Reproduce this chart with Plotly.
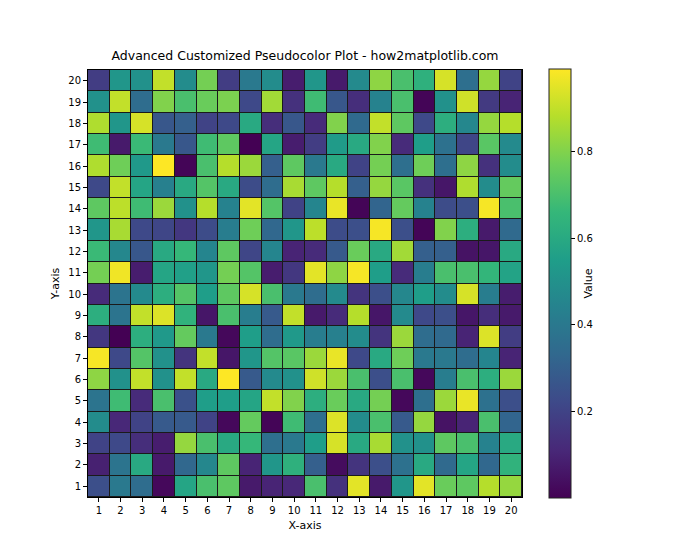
import plotly.graph_objects as go

x_labels = list(range(1, 21))
y_labels = list(range(1, 21))

# rows listed from y=1 (bottom) to y=20 (top), columns x=1..20
row01 = [0.24, 0.40, 0.35, 0.02, 0.58, 0.70, 0.74, 0.07, 0.10, 0.11, 0.70, 0.14, 0.95, 0.07, 0.52, 0.95, 0.76, 0.74, 0.88, 0.83]
row02 = [0.09, 0.38, 0.60, 0.07, 0.33, 0.46, 0.74, 0.10, 0.52, 0.63, 0.30, 0.03, 0.15, 0.24, 0.37, 0.60, 0.34, 0.58, 0.33, 0.64]
row03 = [0.20, 0.22, 0.13, 0.08, 0.83, 0.70, 0.60, 0.66, 0.36, 0.40, 0.55, 0.93, 0.60, 0.86, 0.50, 0.50, 0.74, 0.70, 0.44, 0.60]
row04 = [0.48, 0.11, 0.20, 0.28, 0.28, 0.20, 0.02, 0.75, 0.01, 0.68, 0.36, 0.94, 0.48, 0.70, 0.28, 0.83, 0.05, 0.10, 0.70, 0.32]
row05 = [0.38, 0.68, 0.12, 0.70, 0.25, 0.55, 0.55, 0.58, 0.90, 0.80, 0.62, 0.76, 0.60, 0.78, 0.02, 0.36, 0.84, 0.96, 0.37, 0.24]
row06 = [0.82, 0.50, 0.90, 0.50, 0.90, 0.60, 0.99, 0.28, 0.47, 0.50, 0.92, 0.84, 0.70, 0.24, 0.70, 0.02, 0.42, 0.70, 0.62, 0.84]
row07 = [0.98, 0.22, 0.72, 0.50, 0.15, 0.90, 0.06, 0.52, 0.72, 0.73, 0.84, 0.96, 0.22, 0.60, 0.77, 0.40, 0.40, 0.35, 0.45, 0.10]
row08 = [0.16, 0.00, 0.62, 0.53, 0.75, 0.40, 0.02, 0.55, 0.35, 0.53, 0.42, 0.43, 0.48, 0.15, 0.84, 0.35, 0.34, 0.10, 0.94, 0.18]
row09 = [0.62, 0.38, 0.90, 0.94, 0.64, 0.06, 0.70, 0.42, 0.28, 0.90, 0.07, 0.12, 0.88, 0.06, 0.47, 0.22, 0.24, 0.06, 0.13, 0.07]
row10 = [0.12, 0.38, 0.47, 0.62, 0.72, 0.55, 0.74, 0.93, 0.70, 0.40, 0.35, 0.47, 0.15, 0.24, 0.46, 0.55, 0.48, 0.93, 0.42, 0.08]
row11 = [0.78, 0.97, 0.08, 0.58, 0.56, 0.52, 0.78, 0.72, 0.08, 0.16, 0.95, 0.82, 0.98, 0.55, 0.12, 0.42, 0.70, 0.70, 0.65, 0.57]
row12 = [0.67, 0.46, 0.27, 0.60, 0.66, 0.45, 0.74, 0.21, 0.45, 0.10, 0.12, 0.28, 0.76, 0.60, 0.85, 0.30, 0.30, 0.05, 0.06, 0.60]
row13 = [0.52, 0.86, 0.22, 0.21, 0.16, 0.23, 0.42, 0.77, 0.33, 0.52, 0.89, 0.23, 0.24, 0.98, 0.24, 0.01, 0.80, 0.62, 0.07, 0.34]
row14 = [0.74, 0.89, 0.68, 0.84, 0.50, 0.88, 0.44, 0.95, 0.72, 0.20, 0.45, 0.96, 0.01, 0.32, 0.75, 0.44, 0.23, 0.24, 0.98, 0.70]
row15 = [0.22, 0.90, 0.58, 0.43, 0.60, 0.72, 0.60, 0.23, 0.35, 0.86, 0.74, 0.88, 0.30, 0.83, 0.73, 0.14, 0.06, 0.87, 0.48, 0.75]
row16 = [0.87, 0.77, 0.53, 0.99, 0.01, 0.70, 0.88, 0.84, 0.30, 0.74, 0.40, 0.60, 0.20, 0.78, 0.36, 0.77, 0.36, 0.82, 0.14, 0.48]
row17 = [0.68, 0.07, 0.67, 0.40, 0.27, 0.68, 0.74, 0.00, 0.58, 0.08, 0.18, 0.54, 0.60, 0.80, 0.12, 0.55, 0.37, 0.21, 0.73, 0.47]
row18 = [0.87, 0.52, 0.93, 0.27, 0.30, 0.20, 0.22, 0.60, 0.13, 0.27, 0.12, 0.80, 0.34, 0.90, 0.74, 0.22, 0.62, 0.46, 0.83, 0.88]
row19 = [0.50, 0.90, 0.35, 0.80, 0.70, 0.76, 0.79, 0.22, 0.85, 0.14, 0.68, 0.27, 0.13, 0.44, 0.70, 0.01, 0.50, 0.92, 0.17, 0.10]
row20 = [0.18, 0.52, 0.50, 0.90, 0.48, 0.78, 0.18, 0.40, 0.48, 0.08, 0.52, 0.07, 0.47, 0.82, 0.70, 0.63, 0.93, 0.36, 0.83, 0.20]

z = [row01, row02, row03, row04, row05, row06, row07, row08, row09, row10,
     row11, row12, row13, row14, row15, row16, row17, row18, row19, row20]

colorbar_ticks = [0.2, 0.4, 0.6, 0.8]

font_family = "DejaVu Sans, Noto Sans, sans-serif"

fig = go.Figure(go.Heatmap(
    x=x_labels, y=y_labels, z=z,
    colorscale="Viridis",
    xgap=1, ygap=1,
    zmin=0.0, zmax=0.99,
    colorbar=dict(
        title=dict(text="Value", side="right", font=dict(size=11, color="black")),
        x=1.062, xanchor="left", y=0.5, yanchor="middle",
        len=1.005, lenmode="fraction",
        thickness=22, thicknessmode="pixels",
        outlinewidth=1, outlinecolor="#222",
        tickvals=colorbar_ticks, ticktext=[f"{t:.1f}" for t in colorbar_ticks],
        ticks="outside", ticklen=4, tickcolor="black",
        tickfont=dict(size=10, color="black"),
        xpad=0, ypad=0,
    ),
))

axis_common = dict(
    showgrid=False, zeroline=False,
    ticks="outside", ticklen=4, tickcolor="black",
    showline=True, linecolor="black", linewidth=1, mirror=True,
    tickfont=dict(size=10, color="black"),
    tickmode="array",
)

# page body adds ~8px offset; margins compensate
fig.update_layout(
    width=700, height=560,
    margin=dict(l=80, r=186, t=62, b=71),
    paper_bgcolor="white",
    plot_bgcolor="#1a1a1a",
    font=dict(family=font_family, color="black"),
    title=dict(text="Advanced Customized Pseudocolor Plot - how2matplotlib.com",
               x=(80 + 514) / 2 / 700, xanchor="center", y=1 - 48 / 560, yanchor="middle",
               font=dict(size=12.5, color="black")),
    xaxis=dict(axis_common, tickvals=x_labels, range=[0.5, 20.5],
               title=dict(text="X-axis", font=dict(size=11), standoff=6)),
    yaxis=dict(axis_common, tickvals=y_labels, range=[0.5, 20.5],
               title=dict(text="Y-axis", font=dict(size=11), standoff=6)),
)

fig.write_html("out.html")
